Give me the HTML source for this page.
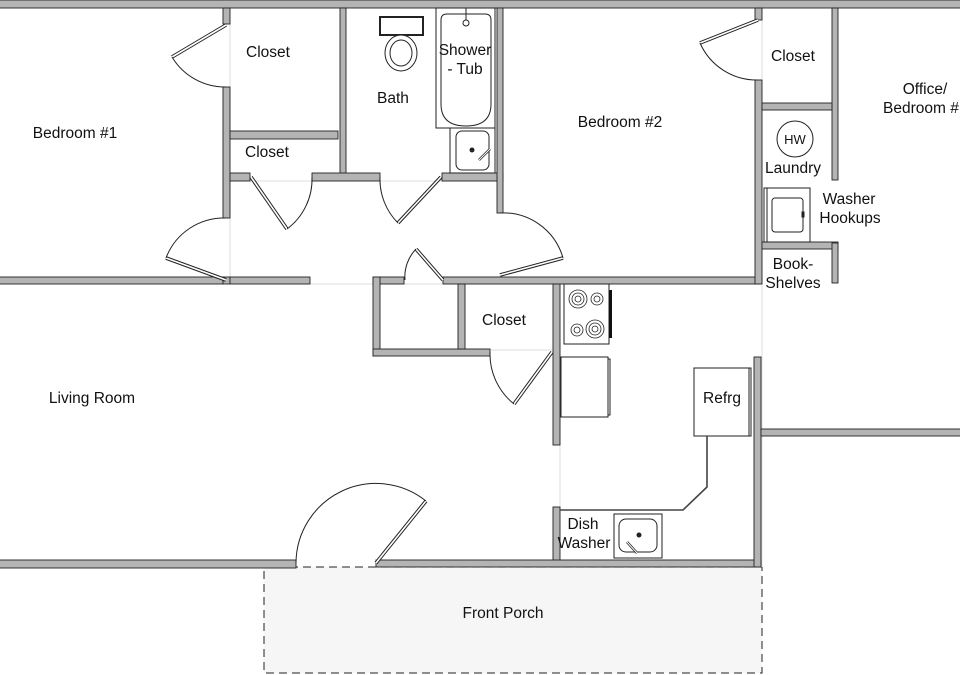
<!DOCTYPE html>
<html><head><style>
html,body{margin:0;padding:0;background:#fff;}
svg{display:block;}
text{font-family:"Liberation Sans",Arial,sans-serif;font-size:15.5px;fill:#111;text-anchor:middle;}
.w{fill:#b4b4b4;stroke:#222;stroke-width:0.9;}
.t{fill:none;stroke:#222;stroke-width:1;}
.leaf{stroke:#222;stroke-width:3.6;fill:none;}
.leafi{stroke:#fff;stroke-width:1.6;fill:none;}
.g{stroke:#ddd;stroke-width:1;}
</style></head><body>
<svg width="960" height="675" viewBox="0 0 960 675" xmlns="http://www.w3.org/2000/svg">
<rect x="264" y="567" width="498" height="106" fill="#f6f6f6" stroke="#222" stroke-dasharray="8,5" stroke-width="1"/>
<line class="g" x1="230" y1="8" x2="230" y2="284"/>
<line class="g" x1="230" y1="181" x2="503" y2="181"/>
<line class="g" x1="230" y1="284" x2="560" y2="284"/>
<line class="g" x1="762" y1="8" x2="762" y2="567"/>
<line class="g" x1="560" y1="284" x2="560" y2="567"/>
<line class="g" x1="380" y1="350" x2="553" y2="350"/>
<rect class="w" x="-2" y="0" width="964" height="8"/>
<rect class="w" x="223" y="8" width="7" height="16"/>
<rect class="w" x="223" y="87" width="7" height="131"/>
<rect class="w" x="230" y="131" width="108" height="8"/>
<rect class="w" x="340" y="8" width="6" height="167"/>
<rect class="w" x="230" y="173" width="20" height="8"/>
<rect class="w" x="312" y="173" width="68" height="8"/>
<rect class="w" x="442" y="173" width="61" height="8"/>
<rect class="w" x="497" y="8" width="6" height="205"/>
<rect class="w" x="-2" y="277" width="225" height="7"/>
<rect class="w" x="223" y="277" width="7" height="7" fill="#fff"/>
<rect class="w" x="230" y="277" width="80" height="7"/>
<rect class="w" x="373" y="277" width="31" height="7"/>
<rect class="w" x="443" y="277" width="318" height="7"/>
<rect class="w" x="373" y="277" width="7" height="79"/>
<rect class="w" x="373" y="349" width="117" height="7"/>
<rect class="w" x="458" y="284" width="7" height="65"/>
<rect class="w" x="553" y="284" width="7" height="161"/>
<rect class="w" x="553" y="507" width="7" height="60"/>
<rect class="w" x="-2" y="560" width="298" height="8"/>
<rect class="w" x="376" y="560" width="385" height="7"/>
<rect class="w" x="754" y="357" width="7" height="210"/>
<rect class="w" x="761" y="429" width="201" height="7"/>
<rect class="w" x="755" y="8" width="7" height="12"/>
<rect class="w" x="755" y="80" width="7" height="204"/>
<rect class="w" x="832" y="8" width="6" height="172"/>
<rect class="w" x="762" y="103" width="70" height="7"/>
<rect class="w" x="762" y="242" width="76" height="7"/>
<rect class="w" x="832" y="243" width="6" height="40"/>
<g>
<polyline class="leaf" points="226,25 172,57"/><polyline class="leafi" points="226,25 172,57"/>
<path class="t" d="M172,57 A62,62 0 0 0 226,87"/>
<polyline class="leaf" points="226,280 166,258"/><polyline class="leafi" points="226,280 166,258"/>
<path class="t" d="M166,258 A62,62 0 0 1 226,218"/>
<polyline class="leaf" points="251,177 287,229"/><polyline class="leafi" points="251,177 287,229"/>
<path class="t" d="M287,229 A62,62 0 0 0 312,177"/>
<polyline class="leaf" points="441,177 398,223"/><polyline class="leafi" points="441,177 398,223"/>
<path class="t" d="M398,223 A62,62 0 0 1 380,177"/>
<polyline class="leaf" points="500,275 563,258"/><polyline class="leafi" points="500,275 563,258"/>
<path class="t" d="M563,258 A62,62 0 0 0 500,213"/>
<polyline class="leaf" points="443,280 416,249"/><polyline class="leafi" points="443,280 416,249"/>
<path class="t" d="M416,249 A40,40 0 0 0 405,280"/>
<polyline class="leaf" points="758,20 700,43"/><polyline class="leafi" points="758,20 700,43"/>
<path class="t" d="M700,43 A62,62 0 0 0 758,80"/>
<polyline class="leaf" points="552,352 514,404"/><polyline class="leafi" points="552,352 514,404"/>
<path class="t" d="M514,404 A64,64 0 0 1 490,352"/>
<polyline class="leaf" points="376,563 426,501"/><polyline class="leafi" points="376,563 426,501"/>
<path class="t" d="M426,501 A80,80 0 0 0 296,563"/>
</g>
<rect x="380" y="17" width="43" height="18" fill="#fff" stroke="#222" stroke-width="2"/>
<ellipse cx="401" cy="53" rx="16" ry="18" fill="#fff" stroke="#222"/>
<ellipse cx="401" cy="53" rx="11" ry="13" fill="none" stroke="#222"/>
<rect class="t" x="436" y="8" width="59" height="120" fill="#fff"/>
<path class="t" d="M441,20 Q441,14 447,14 L485,14 Q491,14 491,20 L491,104 Q491,126 466,126 Q441,126 441,104 Z"/>
<circle class="t" cx="466" cy="23" r="3"/>
<line class="t" x1="466" y1="8" x2="466" y2="20"/>
<rect class="t" x="450" y="128" width="45" height="45"/>
<rect class="t" x="456" y="131" width="33" height="39" rx="6"/>
<circle cx="472" cy="150" r="2.5" fill="#222"/>
<line x1="479" y1="160" x2="490" y2="149" stroke="#222" stroke-width="2.5"/>
<line x1="479" y1="160" x2="490" y2="149" stroke="#fff" stroke-width="1"/>
<circle class="t" cx="795" cy="139" r="18"/>
<text x="795" y="144" style="font-size:13px">HW</text>
<rect class="t" x="764" y="188" width="46" height="54"/>
<line class="t" x1="767" y1="188" x2="767" y2="242"/>
<rect class="t" x="772" y="198" width="31" height="34" rx="3"/>
<rect class="t" x="802" y="212" width="2" height="5"/>
<rect class="t" x="564" y="284" width="45" height="60"/>
<rect x="609" y="290" width="3" height="48" fill="#111"/>
<g fill="none" stroke="#222" stroke-width="0.8">
<circle cx="578" cy="299" r="9"/><circle cx="578" cy="299" r="6"/><circle cx="578" cy="299" r="3"/>
<circle cx="597" cy="299" r="6"/><circle cx="597" cy="299" r="3"/>
<circle cx="577" cy="330" r="6"/><circle cx="577" cy="330" r="3"/>
<circle cx="595" cy="329" r="9"/><circle cx="595" cy="329" r="6"/><circle cx="595" cy="329" r="3"/>
</g>
<rect class="t" x="561" y="357" width="47" height="60"/>
<rect class="t" x="608" y="359" width="2" height="56"/>
<rect class="t" x="694" y="368" width="57" height="68" fill="#fff"/>
<line class="t" x1="749" y1="368" x2="749" y2="436"/>
<polyline fill="none" stroke="#444" stroke-width="1.6" points="707,436 707,487 683,510 560,510"/>
<rect class="t" x="614" y="514" width="48" height="44"/>
<rect class="t" x="619" y="519" width="38" height="33" rx="7"/>
<circle cx="639" cy="535" r="2.5" fill="#222"/>
<line x1="627" y1="542" x2="637" y2="553" stroke="#222" stroke-width="2.5"/>
<line x1="627" y1="542" x2="637" y2="553" stroke="#fff" stroke-width="1"/>
<text x="75" y="138">Bedroom #1</text>
<text x="268" y="57">Closet</text>
<text x="267" y="157">Closet</text>
<text x="393" y="103">Bath</text>
<text x="465" y="55">Shower</text>
<text x="465" y="74">- Tub</text>
<text x="620" y="127">Bedroom #2</text>
<text x="793" y="61">Closet</text>
<text x="925" y="94">Office/</text>
<text x="883" y="113" style="text-anchor:start">Bedroom #</text>
<text x="793" y="173">Laundry</text>
<text x="849" y="204">Washer</text>
<text x="850" y="223">Hookups</text>
<text x="793" y="269">Book-</text>
<text x="793" y="288">Shelves</text>
<text x="504" y="325">Closet</text>
<text x="92" y="403">Living Room</text>
<text x="722" y="403">Refrg</text>
<text x="583" y="529">Dish</text>
<text x="584" y="548">Washer</text>
<text x="503" y="618">Front Porch</text>
</svg>
</body></html>
